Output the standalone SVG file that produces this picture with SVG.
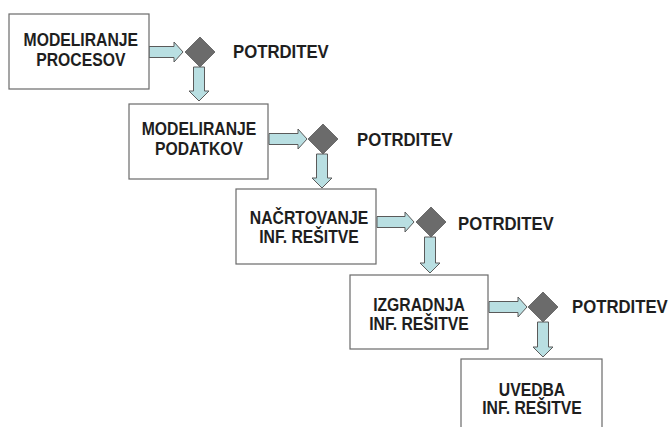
<svg xmlns="http://www.w3.org/2000/svg" width="669" height="427" viewBox="0 0 669 427">
<defs>
<style>
.box{fill:#fff;stroke:#6a6a6a;stroke-width:1.2}
.t{font-family:"Liberation Sans",Arial,sans-serif;font-weight:bold;font-size:17.5px;fill:#1e1e1e;text-anchor:middle}
.p{font-family:"Liberation Sans",Arial,sans-serif;font-weight:bold;font-size:18px;fill:#1e1e1e}
.arr{fill:#b9dfe2;stroke:#5a5a5a;stroke-width:1}
.dia{fill:#6b6b6b;stroke:#5a5a5a;stroke-width:0.8}
</style>
</defs>
<rect width="669" height="427" fill="#fff"/>
<g id="connectors">
<path class="arr" d="M149,46.5 H174 V42 L183,52 L174,62 V57.5 H149 Z"/>
<path class="arr" d="M193.5,67 V91 H189 L199,101 L209,91 H204.5 V67 Z"/>
<path class="arr" d="M269,133.5 H298 V129 L307,139 L298,149 V144.5 H269 Z"/>
<path class="arr" d="M316.5,154 V178 H312 L322,188 L332,178 H327.5 V154 Z"/>
<path class="arr" d="M377,216.5 H405 V212 L414,222 L405,232 V227.5 H377 Z"/>
<path class="arr" d="M424.5,237 V263 H420 L430,273 L440,263 H435.5 V237 Z"/>
<path class="arr" d="M489,301.5 H518 V297 L527,307 L518,317 V312.5 H489 Z"/>
<path class="arr" d="M537.5,322 V347 H533 L543,357 L553,347 H548.5 V322 Z"/>
</g>
<g id="n1">
<rect class="box" x="9" y="14" width="140" height="75"/>
<text class="t" transform="translate(80.8,46) scale(0.9,1)">MODELIRANJE</text>
<text class="t" transform="translate(80.8,65.5) scale(0.9,1)">PROCESOV</text>
</g>
<g id="d1">
<polygon class="dia" points="200,37 215,52 200,67 185,52"/>
<text class="p" transform="translate(233,58) scale(0.93,1)">POTRDITEV</text>
</g>
<g id="n2">
<rect class="box" x="129" y="104" width="139" height="75"/>
<text class="t" transform="translate(199,135) scale(0.9,1)">MODELIRANJE</text>
<text class="t" transform="translate(199,154.5) scale(0.9,1)">PODATKOV</text>
</g>
<g id="d2">
<polygon class="dia" points="323,124 338,139 323,154 308,139"/>
<text class="p" transform="translate(357,145.5) scale(0.93,1)">POTRDITEV</text>
</g>
<g id="n3">
<rect class="box" x="236" y="189" width="140" height="75"/>
<text class="t" transform="translate(309,224) scale(0.9,1)">NAČRTOVANJE</text>
<text class="t" transform="translate(309,242.5) scale(0.9,1)">INF. REŠITVE</text>
</g>
<g id="d3">
<polygon class="dia" points="431,207 446,222 431,237 416,222"/>
<text class="p" transform="translate(458,230) scale(0.93,1)">POTRDITEV</text>
</g>
<g id="n4">
<rect class="box" x="350" y="275" width="138" height="74"/>
<text class="t" transform="translate(419,311) scale(0.9,1)">IZGRADNJA</text>
<text class="t" transform="translate(419,330) scale(0.9,1)">INF. REŠITVE</text>
</g>
<g id="d4">
<polygon class="dia" points="543,292 558,307 543,322 528,307"/>
<text class="p" transform="translate(572,313) scale(0.93,1)">POTRDITEV</text>
</g>
<g id="n5">
<rect class="box" x="461" y="359" width="141" height="75"/>
<text class="t" transform="translate(532,395.5) scale(0.9,1)">UVEDBA</text>
<text class="t" transform="translate(532,414) scale(0.9,1)">INF. REŠITVE</text>
</g>
</svg>
